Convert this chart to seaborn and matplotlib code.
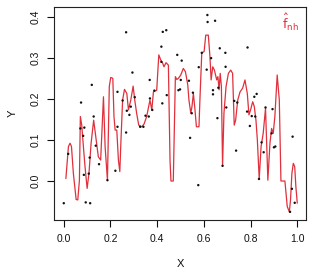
import matplotlib
matplotlib.use("Agg")
import matplotlib.pyplot as plt
import seaborn as sns
import numpy as np
import pandas as pd

# observed points
pts_x = [0.000, 0.019, 0.074, 0.071, 0.088, 0.083, 0.086, 0.094, 0.113, 0.107, 0.111, 0.120,
         0.128, 0.137, 0.151, 0.187, 0.221, 0.230, 0.230, 0.267, 0.267, 0.270, 0.281, 0.287,
         0.294, 0.252, 0.304, 0.327, 0.341, 0.350, 0.364, 0.368, 0.369, 0.379, 0.388, 0.422,
         0.418, 0.424, 0.439, 0.418, 0.441, 0.486, 0.491, 0.501, 0.498, 0.505, 0.536, 0.541,
         0.553, 0.548, 0.576, 0.578, 0.591, 0.612, 0.615, 0.616, 0.648, 0.631, 0.639, 0.639,
         0.658, 0.662, 0.668, 0.680, 0.692, 0.693, 0.696, 0.738, 0.730, 0.743, 0.787, 0.785,
         0.797, 0.805, 0.816, 0.826, 0.820, 0.836, 0.847, 0.856, 0.864, 0.894, 0.890, 0.900,
         0.906, 0.980, 0.977, 0.969, 0.989]
pts_y = [-0.054, 0.066, 0.191, 0.128, 0.130, 0.110, 0.015, -0.052, -0.054, 0.018, 0.057, 0.234,
         0.157, 0.086, 0.041, 0.002, 0.025, 0.132, 0.217, 0.362, 0.118, 0.171, 0.161, 0.181,
         0.264, 0.196, 0.204, 0.132, 0.132, 0.159, 0.157, 0.246, 0.201, 0.173, 0.220, 0.189,
         0.327, 0.363, 0.367, 0.290, 0.209, 0.307, 0.221, 0.246, 0.223, 0.293, 0.244, 0.105,
         0.215, 0.165, -0.010, 0.277, 0.312, 0.271, 0.404, 0.387, 0.390, 0.299, 0.221, 0.211,
         0.153, 0.227, 0.323, 0.037, 0.312, 0.278, 0.179, 0.074, 0.195, 0.191, 0.325, 0.169,
         0.134, 0.158, 0.205, 0.212, 0.157, 0.005, 0.094, 0.070, 0.179, 0.175, 0.116, 0.082,
         0.084, 0.108, -0.019, -0.075, -0.053]

# estimated curve
fit_x = [0.009, 0.020, 0.027, 0.033, 0.041, 0.053, 0.060, 0.067, 0.071, 0.077, 0.084, 0.091,
         0.100, 0.108, 0.117, 0.128, 0.137, 0.148, 0.158, 0.170, 0.177, 0.187, 0.195, 0.201,
         0.210, 0.215, 0.220, 0.227, 0.234, 0.240, 0.245, 0.252, 0.260, 0.270, 0.277, 0.287,
         0.297, 0.304, 0.312, 0.321, 0.334, 0.344, 0.355, 0.369, 0.377, 0.384, 0.398, 0.407,
         0.415, 0.424, 0.429, 0.438, 0.448, 0.455, 0.459, 0.469, 0.478, 0.484, 0.491, 0.501,
         0.512, 0.521, 0.531, 0.536, 0.544, 0.549, 0.555, 0.562, 0.568, 0.579, 0.583, 0.591,
         0.601, 0.608, 0.619, 0.626, 0.631, 0.638, 0.645, 0.655, 0.660, 0.665, 0.670, 0.675,
         0.680, 0.686, 0.695, 0.705, 0.715, 0.723, 0.730, 0.736, 0.745, 0.755, 0.766, 0.776,
         0.786, 0.793, 0.800, 0.809, 0.816, 0.823, 0.829, 0.837, 0.845, 0.854, 0.864, 0.874,
         0.883, 0.890, 0.897, 0.904, 0.914, 0.923, 0.930, 0.947, 0.957, 0.966, 0.971, 0.977,
         0.983, 0.989, 0.994, 1.000]
fit_y = [0.006, 0.084, 0.092, 0.084, 0.019, -0.045, -0.046, 0.002, 0.157, 0.136, 0.084, 0.035,
         -0.018, 0.019, 0.092, 0.148, 0.108, 0.059, 0.051, 0.205, 0.084, 0.002, 0.230, 0.252,
         0.250, 0.157, 0.124, 0.124, 0.051, 0.023, 0.100, 0.197, 0.223, 0.213, 0.173, 0.197,
         0.231, 0.197, 0.165, 0.136, 0.132, 0.139, 0.157, 0.197, 0.173, 0.217, 0.221, 0.307,
         0.295, 0.286, 0.278, 0.288, 0.282, 0.051, 0.000, 0.000, 0.254, 0.247, 0.250, 0.258,
         0.274, 0.266, 0.234, 0.197, 0.165, 0.181, 0.213, 0.173, 0.132, 0.132, 0.197, 0.312,
         0.315, 0.355, 0.355, 0.303, 0.246, 0.278, 0.270, 0.246, 0.254, 0.222, 0.262, 0.230,
         0.037, 0.165, 0.230, 0.262, 0.270, 0.262, 0.136, 0.148, 0.197, 0.217, 0.226, 0.246,
         0.213, 0.161, 0.173, 0.193, 0.181, 0.148, 0.100, 0.005, 0.084, 0.116, 0.177, 0.002,
         0.092, 0.128, 0.116, 0.157, 0.258, 0.197, 0.000, 0.000, -0.062, -0.075, -0.046, 0.019,
         0.043, 0.035, -0.014, -0.054]

x_ticks = [0.0, 0.2, 0.4, 0.6, 0.8, 1.0]
y_ticks = [0.0, 0.1, 0.2, 0.3, 0.4]
x_label = "X"
y_label = "Y"
legend_text = r"$\hat{\mathrm{f}}_{\mathrm{nh}}$"

sns.set_style("ticks")
plt.rcParams["font.family"] = ["Liberation Sans", "DejaVu Sans"]

fig = plt.figure(figsize=(3.2, 2.71), dpi=100)
ax = fig.add_axes([0.169, 0.188, 0.787, 0.786])

pts = pd.DataFrame({"x": pts_x, "y": pts_y})
fit = pd.DataFrame({"x": fit_x, "y": fit_y})

sns.scatterplot(data=pts, x="x", y="y", ax=ax, s=3, color="#111111",
                edgecolor="none", linewidth=0, zorder=3)
sns.lineplot(data=fit, x="x", y="y", ax=ax, color="#e0303c", linewidth=0.9,
             sort=False, estimator=None, zorder=2)

ax.set_xlim(-0.0415, 1.037)
ax.set_ylim(-0.095, 0.4234)
ax.set_xticks(x_ticks)
ax.set_xticklabels([f"{t:.1f}" for t in x_ticks])
ax.set_yticks(y_ticks)
ax.set_yticklabels([f"{t:.1f}" for t in y_ticks], rotation=90, va="center")
ax.tick_params(axis="both", direction="out", length=5, width=0.8, colors="#111111",
               labelsize=7.5, pad=5)
for s in ax.spines.values():
    s.set_visible(True)
    s.set_linewidth(0.8)
    s.set_color("#222222")

ax.set_xlabel(x_label, fontsize=8, labelpad=11, color="#111111")
ax.set_ylabel(y_label, fontsize=8, labelpad=9, color="#111111")

ax.text(0.972, 0.385, legend_text, color="#e0303c", fontsize=9,
        ha="center", va="center")

fig.savefig("out.png", dpi=100)
